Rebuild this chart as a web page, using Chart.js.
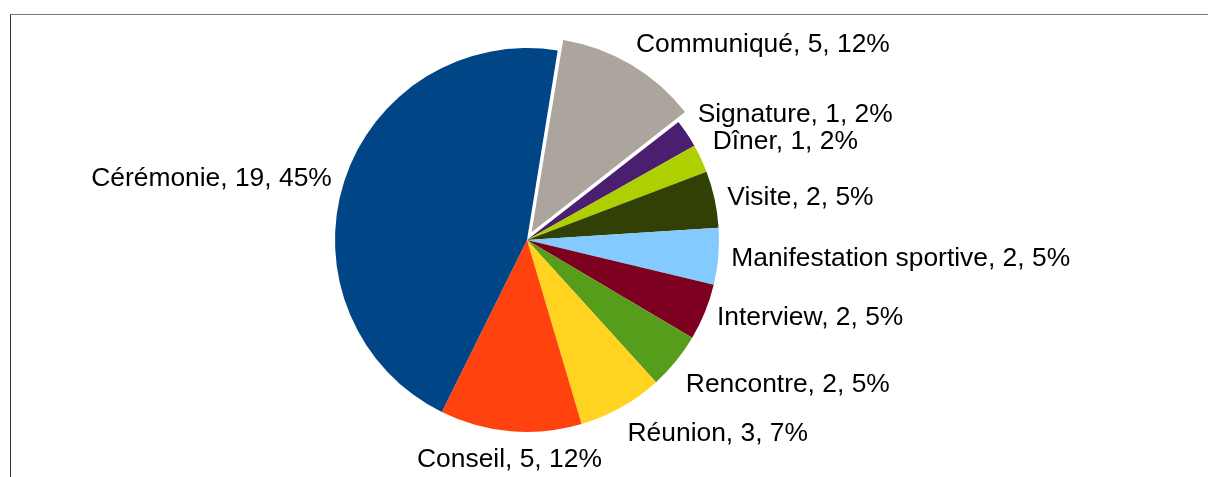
<!DOCTYPE html>
<html>
<head>
<meta charset="utf-8">
<script src="https://cdn.jsdelivr.net/npm/chart.js@4/dist/chart.umd.min.js"></script>
<style>
  html, body { margin: 0; padding: 0; background: #fff; }
  #wrap { position: relative; width: 1208px; height: 477px; overflow: hidden; }
  #frame {
    position: absolute; left: 10px; top: 14px; right: 0; bottom: 0;
    border-top: 1px solid #777; border-left: 1px solid #333;
  }
  canvas { position: absolute; left: 0; top: 0; }
</style>
</head>
<body>
<div id="wrap">
  <div id="frame"></div>
  <canvas id="pie" width="1208" height="477"></canvas>
</div>
<script>
// Slices in clockwise order, starting just right of 12 o'clock
const CATEGORIES = [
  "Communiqué", "Signature", "Dîner", "Visite", "Manifestation sportive",
  "Interview", "Rencontre", "Réunion", "Conseil", "Cérémonie",
];
const COUNTS = [5, 1, 1, 2, 2, 2, 2, 3, 5, 19];
const SLICE_COLORS = [
  "#aca59e", "#4b1f6f", "#aecf00", "#314004", "#83caff",
  "#7e0021", "#579d1c", "#ffd320", "#ff420e", "#004586",
];
// only "Communiqué" is pulled out of the pie
const EXPLODE = [36, 0, 0, 0, 0, 0, 0, 0, 0, 0];

const TOTAL = COUNTS.reduce((a, b) => a + b, 0);
const FONT_PX = 26.4;

// LibreOffice-style outside labels: "name, value, pct%"
const outsideLabels = {
  id: "outsideLabels",
  afterDraw(chart) {
    const ctx = chart.ctx;
    const meta = chart.getDatasetMeta(0);
    const lim = Math.sin(Math.PI / 8);
    ctx.save();
    ctx.font = FONT_PX + "px 'Liberation Sans', Arial, sans-serif";
    ctx.fillStyle = "#000";
    meta.data.forEach((arc, i) => {
      const mid = (arc.startAngle + arc.endAngle) / 2;
      const dx = Math.cos(mid), dy = Math.sin(mid);
      const shift = (arc.options.offset || 0) / 4;
      const r = arc.outerRadius + shift + 13;
      const x = arc.x + dx * r;
      let y = arc.y + dy * r + 1;
      ctx.textAlign = dx > lim ? "left" : (dx < -lim ? "right" : "center");
      ctx.textBaseline = "middle";
      if (dy > lim) y += FONT_PX / 2 + 1;
      else if (dy < -lim) y -= FONT_PX / 2 - 1;
      const pct = Math.round(COUNTS[i] / TOTAL * 100);
      ctx.fillText(`${CATEGORIES[i]}, ${COUNTS[i]}, ${pct}%`, x, y);
    });
    ctx.restore();
  },
};

new Chart(document.getElementById("pie"), {
  type: "pie",
  data: {
    labels: CATEGORIES,
    datasets: [{
      data: COUNTS,
      backgroundColor: SLICE_COLORS,
      offset: EXPLODE,
      borderWidth: 0,
      hoverOffset: 0,
    }],
  },
  options: {
    responsive: false,
    devicePixelRatio: 1,
    animation: false,
    rotation: 9.2,
    radius: 192,
    layout: { padding: { top: 43, bottom: 40, left: 330, right: 484 } },
    plugins: {
      legend: { display: false },
      tooltip: { enabled: false },
    },
  },
  plugins: [outsideLabels],
});
</script>
</body>
</html>
